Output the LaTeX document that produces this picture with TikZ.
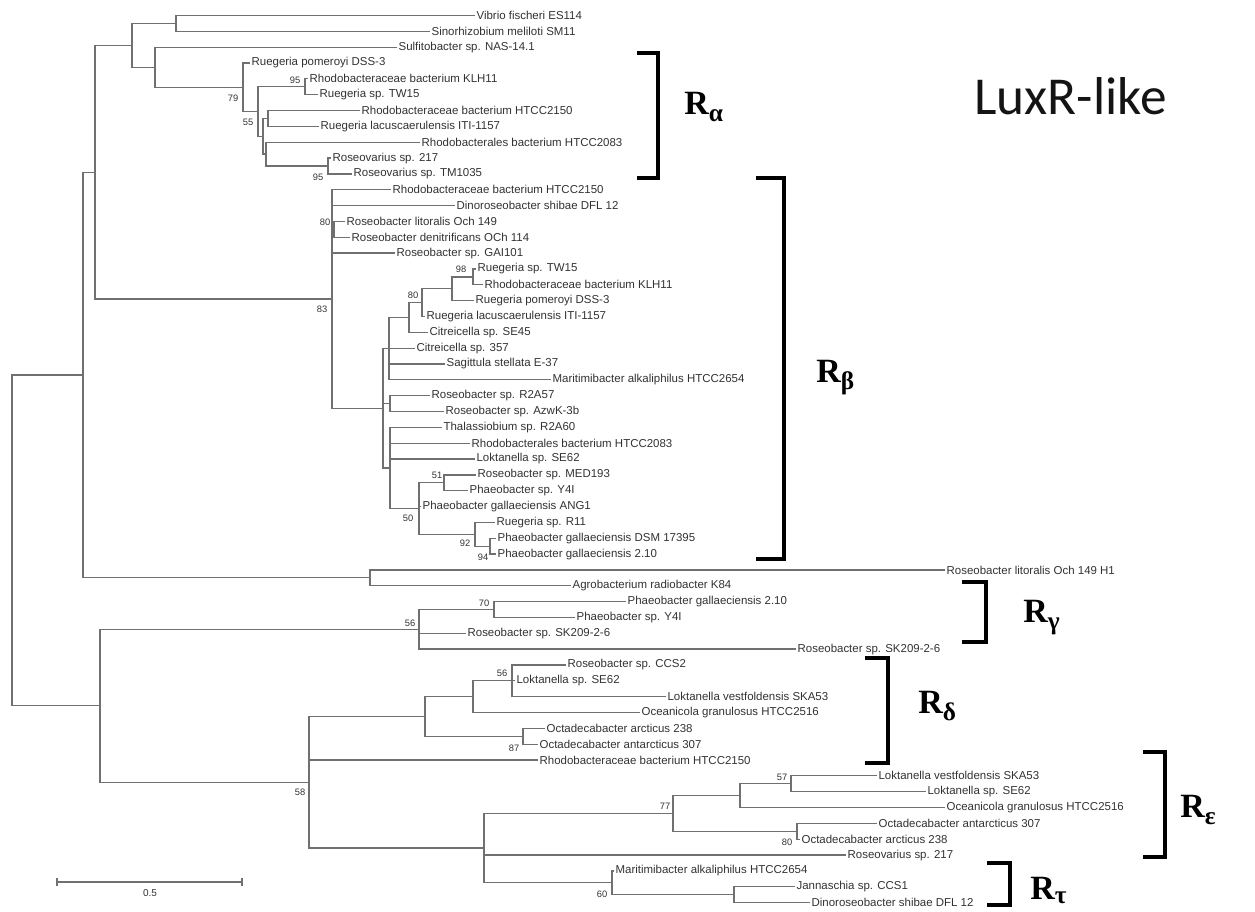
\documentclass[tikz,border=0pt]{standalone}
\usepackage{fontspec}
\newfontfamily\taxonfont{Liberation Sans}
\newfontfamily\cladefont{Liberation Serif}
\newfontfamily\headfont{Carlito}
\definecolor{treegray}{RGB}{112,112,112}
\definecolor{taxongray}{RGB}{50,50,50}
% vertical position (px) of leaf row #1
\pgfmathdeclarefunction{row}{1}{\pgfmathparse{15.5+15.84*#1}}
\newcommand\cladesub[2][5.5pt]{\raisebox{-#1}{\fontsize{19}{19}\selectfont #2}}
\tikzset{
  branch/.style={draw=treegray, line width=0.95pt, line join=miter},
  taxon/.style={anchor=west, inner xsep=1.2pt, inner ysep=0pt, outer sep=0pt,
    text=taxongray, font=\taxonfont\fontsize{8.6}{10}\selectfont},
  boot/.style={inner sep=0pt, text=taxongray, font=\taxonfont\fontsize{7}{8}\selectfont},
  cladebracket/.style={draw=black, line width=2.6pt, line join=miter},
  cladename/.style={anchor=base west, inner sep=0pt,
    font=\cladefont\bfseries\fontsize{25.5}{26}\selectfont},
}
\begin{document}
\begin{tikzpicture}[x=0.75pt,y=-0.75pt]
\useasboundingbox (0,0) rectangle (1255,911);

% ---------- internal nodes of the tree ----------
\coordinate (root) at (12,{row(33.14)});
\coordinate (A)  at (83,{row(22.70)});
\coordinate (B)  at (95,{row(9.89)});
\coordinate (Q)  at (132,{row(1.88)});
\coordinate (E)  at (176,{row(0.5)});
\coordinate (F)  at (155,{row(3.265)});
\coordinate (G)  at (243,{row(4.53)});
\coordinate (H)  at (258,{row(6.06)});
\coordinate (I)  at (305,{row(4.5)});
\coordinate (J)  at (263,{row(7.625)});
\coordinate (K)  at (268,{row(6.5)});
\coordinate (L)  at (266,{row(8.75)});
\coordinate (M)  at (328,{row(9.5)});
\coordinate (P)  at (332,{row(17.9)});
\coordinate (S)  at (334,{row(13.5)});
\coordinate (T)  at (383,{row(24.8)});
\coordinate (U)  at (389,{row(21.03)});
\coordinate (X)  at (409,{row(19.06)});
\coordinate (Yn) at (422,{row(18.125)});
\coordinate (Z)  at (452,{row(17.25)});
\coordinate (AA) at (473,{row(16.5)});
\coordinate (V)  at (390,{row(24.5)});
\coordinate (W)  at (390,{row(28.56)});
\coordinate (BB) at (419,{row(31.125)});
\coordinate (CC) at (444,{row(29.5)});
\coordinate (DD) at (475,{row(32.75)});
\coordinate (EE) at (490,{row(33.5)});
\coordinate (C)  at (370,{row(35.5)});
\coordinate (N)  at (100,{row(43.58)});
\coordinate (O)  at (419,{row(38.75)});
\coordinate (GG) at (494,{row(37.5)});
\coordinate (Pn) at (309,{row(48.4)});
\coordinate (HH) at (425,{row(44.25)});
\coordinate (JJ) at (473,{row(43)});
\coordinate (LL) at (512,{row(42)});
\coordinate (KK) at (523,{row(45.5)});
\coordinate (II) at (484,{row(52.56)});
\coordinate (MM) at (673,{row(50.375)});
\coordinate (OO) at (740,{row(49.25)});
\coordinate (QQ) at (791,{row(48.5)});
\coordinate (PP) at (797,{row(51.5)});
\coordinate (NN) at (612,{row(54.75)});
\coordinate (RR) at (734,{row(55.5)});

% ---------- leaves ----------
\node[taxon] (l0)  at (475,{row(0)})  {Vibrio fischeri ES114};
\node[taxon] (l1)  at (430,{row(1)})  {Sinorhizobium meliloti SM11};
\node[taxon] (l2)  at (397,{row(2)})  {Sulfitobacter sp. NAS-14.1};
\node[taxon] (l3)  at (250,{row(3)})  {Ruegeria pomeroyi DSS-3};
\node[taxon] (l4)  at (308,{row(4)})  {Rhodobacteraceae bacterium KLH11};
\node[taxon] (l5)  at (318,{row(5)})  {Ruegeria sp. TW15};
\node[taxon] (l6)  at (360,{row(6)})  {Rhodobacteraceae bacterium HTCC2150};
\node[taxon] (l7)  at (319,{row(7)})  {Ruegeria lacuscaerulensis ITI-1157};
\node[taxon] (l8)  at (420,{row(8)})  {Rhodobacterales bacterium HTCC2083};
\node[taxon] (l9)  at (331,{row(9)})  {Roseovarius sp. 217};
\node[taxon] (l10) at (352,{row(10)}) {Roseovarius sp. TM1035};
\node[taxon] (l11) at (391,{row(11)}) {Rhodobacteraceae bacterium HTCC2150};
\node[taxon] (l12) at (455,{row(12)}) {Dinoroseobacter shibae DFL 12};
\node[taxon] (l13) at (345,{row(13)}) {Roseobacter litoralis Och 149};
\node[taxon] (l14) at (350,{row(14)}) {Roseobacter denitrificans OCh 114};
\node[taxon] (l15) at (395,{row(15)}) {Roseobacter sp. GAI101};
\node[taxon] (l16) at (476,{row(16)}) {Ruegeria sp. TW15};
\node[taxon] (l17) at (483,{row(17)}) {Rhodobacteraceae bacterium KLH11};
\node[taxon] (l18) at (474,{row(18)}) {Ruegeria pomeroyi DSS-3};
\node[taxon] (l19) at (425,{row(19)}) {Ruegeria lacuscaerulensis ITI-1157};
\node[taxon] (l20) at (428,{row(20)}) {Citreicella sp. SE45};
\node[taxon] (l21) at (415,{row(21)}) {Citreicella sp. 357};
\node[taxon] (l22) at (445,{row(22)}) {Sagittula stellata E-37};
\node[taxon] (l23) at (551,{row(23)}) {Maritimibacter alkaliphilus HTCC2654};
\node[taxon] (l24) at (430,{row(24)}) {Roseobacter sp. R2A57};
\node[taxon] (l25) at (444,{row(25)}) {Roseobacter sp. AzwK-3b};
\node[taxon] (l26) at (442,{row(26)}) {Thalassiobium sp. R2A60};
\node[taxon] (l27) at (470,{row(27)}) {Rhodobacterales bacterium HTCC2083};
\node[taxon] (l28) at (475,{row(28)}) {Loktanella sp. SE62};
\node[taxon] (l29) at (476,{row(29)}) {Roseobacter sp. MED193};
\node[taxon] (l30) at (468,{row(30)}) {Phaeobacter sp. Y4I};
\node[taxon] (l31) at (421,{row(31)}) {Phaeobacter gallaeciensis ANG1};
\node[taxon] (l32) at (495,{row(32)}) {Ruegeria sp. R11};
\node[taxon] (l33) at (496,{row(33)}) {Phaeobacter gallaeciensis DSM 17395};
\node[taxon] (l34) at (496,{row(34)}) {Phaeobacter gallaeciensis 2.10};
\node[taxon] (l35) at (945,{row(35)}) {Roseobacter litoralis Och 149 H1};
\node[taxon] (l36) at (571,{row(36)}) {Agrobacterium radiobacter K84};
\node[taxon] (l37) at (626,{row(37)}) {Phaeobacter gallaeciensis 2.10};
\node[taxon] (l38) at (575,{row(38)}) {Phaeobacter sp. Y4I};
\node[taxon] (l39) at (466,{row(39)}) {Roseobacter sp. SK209-2-6};
\node[taxon] (l40) at (796,{row(40)}) {Roseobacter sp. SK209-2-6};
\node[taxon] (l41) at (566,{row(41)}) {Roseobacter sp. CCS2};
\node[taxon] (l42) at (515,{row(42)}) {Loktanella sp. SE62};
\node[taxon] (l43) at (666,{row(43)}) {Loktanella vestfoldensis SKA53};
\node[taxon] (l44) at (640,{row(44)}) {Oceanicola granulosus HTCC2516};
\node[taxon] (l45) at (545,{row(45)}) {Octadecabacter arcticus 238};
\node[taxon] (l46) at (538,{row(46)}) {Octadecabacter antarcticus 307};
\node[taxon] (l47) at (538,{row(47)}) {Rhodobacteraceae bacterium HTCC2150};
\node[taxon] (l48) at (877,{row(48)}) {Loktanella vestfoldensis SKA53};
\node[taxon] (l49) at (926,{row(49)}) {Loktanella sp. SE62};
\node[taxon] (l50) at (945,{row(50)}) {Oceanicola granulosus HTCC2516};
\node[taxon] (l51) at (877,{row(51)}) {Octadecabacter antarcticus 307};
\node[taxon] (l52) at (800,{row(52)}) {Octadecabacter arcticus 238};
\node[taxon] (l53) at (846,{row(53)}) {Roseovarius sp. 217};
\node[taxon] (l54) at (614,{row(54)}) {Maritimibacter alkaliphilus HTCC2654};
\node[taxon] (l55) at (795,{row(55)}) {Jannaschia sp. CCS1};
\node[taxon] (l56) at (810,{row(56)}) {Dinoroseobacter shibae DFL 12};

% ---------- branches ----------
\draw[branch] (root) |- (A) (root) |- (N);
\draw[branch] (A) |- (B) (A) |- (C);
\draw[branch] (B) |- (Q) (B) |- (P);
\draw[branch] (Q) |- (E) (Q) |- (F);
\draw[branch] (E) |- (l0) (E) |- (l1);
\draw[branch] (F) |- (l2) (F) |- (G);
\draw[branch] (G) |- (l3) (G) |- (H);
\draw[branch] (H) |- (I) (H) |- (J);
\draw[branch] (I) |- (l4) (I) |- (l5);
\draw[branch] (J) |- (K) (J) |- (L);
\draw[branch] (K) |- (l6) (K) |- (l7);
\draw[branch] (L) |- (l8) (L) |- (M);
\draw[branch] (M) |- (l9) (M) |- (l10);
\draw[branch] (P) |- (l11) (P) |- (l12) (P) |- (S) (P) |- (l15) (P) |- (T);
\draw[branch] (S) |- (l13) (S) |- (l14);
\draw[branch] (T) |- (U) (T) |- (V) (T) |- (W);
\draw[branch] (U) |- (X) (U) |- (l21) (U) |- (l22) (U) |- (l23);
\draw[branch] (X) |- (Yn) (X) |- (l20);
\draw[branch] (Yn) |- (Z) (Yn) |- (l19);
\draw[branch] (Z) |- (AA) (Z) |- (l18);
\draw[branch] (AA) |- (l16) (AA) |- (l17);
\draw[branch] (V) |- (l24) (V) |- (l25);
\draw[branch] (W) |- (l26) (W) |- (l27) (W) |- (l28) (W) |- (BB);
\draw[branch] (BB) |- (CC) (BB) |- (l31) (BB) |- (DD);
\draw[branch] (CC) |- (l29) (CC) |- (l30);
\draw[branch] (DD) |- (l32) (DD) |- (EE);
\draw[branch] (EE) |- (l33) (EE) |- (l34);
\draw[branch] (C) |- (l35) (C) |- (l36);
\draw[branch] (N) |- (O) (N) |- (Pn);
\draw[branch] (O) |- (GG) (O) |- (l39) (O) |- (l40);
\draw[branch] (GG) |- (l37) (GG) |- (l38);
\draw[branch] (Pn) |- (HH) (Pn) |- (l47) (Pn) |- (II);
\draw[branch] (HH) |- (JJ) (HH) |- (KK);
\draw[branch] (JJ) |- (LL) (JJ) |- (l44);
\draw[branch] (LL) |- (l41) (LL) |- (l42) (LL) |- (l43);
\draw[branch] (KK) |- (l45) (KK) |- (l46);
\draw[branch] (II) |- (MM) (II) |- (l53) (II) |- (NN);
\draw[branch] (MM) |- (OO) (MM) |- (PP);
\draw[branch] (OO) |- (QQ) (OO) |- (l50);
\draw[branch] (QQ) |- (l48) (QQ) |- (l49);
\draw[branch] (PP) |- (l51) (PP) |- (l52);
\draw[branch] (NN) |- (l54) (NN) |- (RR);
\draw[branch] (RR) |- (l55) (RR) |- (l56);

% ---------- bootstrap values ----------
\node[boot] (b1)  at (295,80)  {95};
\node[boot] (b2)  at (233,98)  {79};
\node[boot] (b3)  at (248,122) {55};
\node[boot] (b4)  at (318,177) {95};
\node[boot] (b5)  at (325,222) {80};
\node[boot] (b6)  at (322,309) {83};
\node[boot] (b7)  at (461,269) {98};
\node[boot] (b8)  at (413,295) {80};
\node[boot] (b9)  at (437,475) {51};
\node[boot] (b10) at (408,518) {50};
\node[boot] (b11) at (465,543) {92};
\node[boot] (b12) at (483,557) {94};
\node[boot] (b13) at (484,603) {70};
\node[boot] (b14) at (410,623) {56};
\node[boot] (b15) at (502,673) {56};
\node[boot] (b16) at (514,748) {87};
\node[boot] (b17) at (300,792) {58};
\node[boot] (b18) at (665,806) {77};
\node[boot] (b19) at (782,777) {57};
\node[boot] (b20) at (787,842) {80};
\node[boot] (b21) at (602,894) {60};

% ---------- scale bar ----------
\coordinate (sb1) at (57,882);
\coordinate (sb2) at (242,882);
\draw[branch] (sb1) -- (sb2);
\draw[branch] ([yshift=3pt]sb1) -- ([yshift=-3pt]sb1);
\draw[branch] ([yshift=3pt]sb2) -- ([yshift=-3pt]sb2);
\node[boot, font=\taxonfont\fontsize{7.5}{8}\selectfont] (sblabel) at (150,893) {0.5};

% ---------- clade brackets ----------
\draw[cladebracket] (637,53) coordinate (ra1) -- (658,53) coordinate (ra2)
  -- (658,178) coordinate (ra3) -- (637,178) coordinate (ra4);
\draw[cladebracket] (756,178) coordinate (rb1) -- (784,178) coordinate (rb2)
  -- (784,559) coordinate (rb3) -- (756,559) coordinate (rb4);
\draw[cladebracket] (962,582) coordinate (rg1) -- (986,582) coordinate (rg2)
  -- (986,642) coordinate (rg3) -- (962,642) coordinate (rg4);
\draw[cladebracket] (865,658) coordinate (rd1) -- (888,658) coordinate (rd2)
  -- (888,763) coordinate (rd3) -- (865,763) coordinate (rd4);
\draw[cladebracket] (1143,752) coordinate (re1) -- (1165,752) coordinate (re2)
  -- (1165,857) coordinate (re3) -- (1143,857) coordinate (re4);
\draw[cladebracket] (987,863) coordinate (rt1) -- (1010,863) coordinate (rt2)
  -- (1010,905) coordinate (rt3) -- (987,905) coordinate (rt4);

% ---------- clade names ----------
\node[cladename] (nalpha) at (684,114.5) {R\cladesub{α}};
\node[cladename] (nbeta)  at (816,382)   {R\cladesub{β}};
\node[cladename] (ngamma) at (1023,622)  {R\cladesub{γ}};
\node[cladename] (ndelta) at (918,713)   {R\cladesub{δ}};
\node[cladename] (neps)   at (1180,817)  {R\cladesub{ε}};
\node[cladename] (ntau)   at (1030,899)  {R\cladesub[3.5pt]{τ}};

% ---------- title ----------
\node[anchor=base west, inner sep=0pt, text={rgb,255:red,20;green,20;blue,20},
  font=\headfont\fontsize{40}{42}\selectfont] (title) at (974,114.5) {LuxR-like};
\end{tikzpicture}
\end{document}
